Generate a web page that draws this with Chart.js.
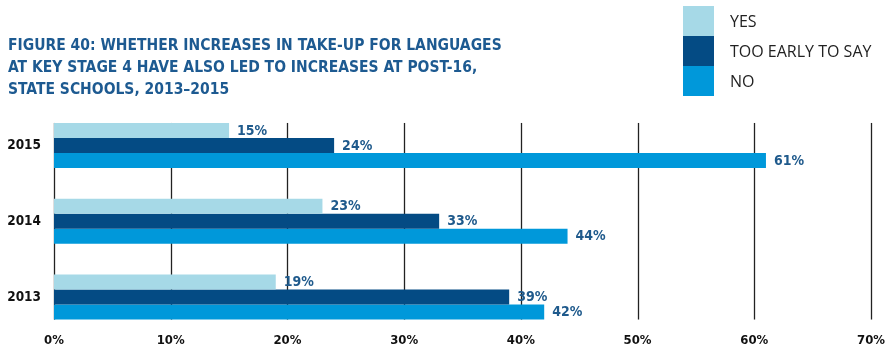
<!DOCTYPE html>
<html>
<head>
<meta charset="utf-8">
<script src="https://cdn.jsdelivr.net/npm/chart.js@4/dist/chart.umd.min.js"></script>
<style>
  body { margin: 0; background: #fff; }
  #wrap { position: relative; width: 886px; height: 350px; }
  #chart { position: absolute; left: 0; top: 0; }
  #title {
    position: absolute; left: 8px; top: 34px;
    font: bold 15.5px "DejaVu Sans Condensed", "DejaVu Sans", sans-serif;
    line-height: 22px; color: #1d5a91;
  }
  #legend { position: absolute; left: 683px; top: 6px; }
  .item { display: flex; align-items: center; height: 30px; }
  .swatch { width: 31px; height: 30px; margin-right: 16px; }
  .item span { font: 16px "Open Sans", sans-serif; color: #222; }
</style>
</head>
<body>
<div id="wrap">
  <canvas id="chart" width="886" height="350"></canvas>
  <div id="title">FIGURE 40: WHETHER INCREASES IN TAKE-UP FOR LANGUAGES<br>AT KEY STAGE 4 HAVE ALSO LED TO INCREASES AT POST-16,<br>STATE SCHOOLS, 2013–2015</div>
  <div id="legend"></div>
</div>
<script>
const years = ['2015', '2014', '2013'];
const seriesNames = ['YES', 'TOO EARLY TO SAY', 'NO'];
const yesValues = [15, 23, 19];
const tooEarlyValues = [24, 33, 39];
const noValues = [61, 44, 42];
const seriesColors = ['#a6d9e7', '#044b84', '#0098da'];

const condensed = '"DejaVu Sans Condensed", "DejaVu Sans", sans-serif';
const narrow = '"Liberation Sans Narrow", "DejaVu Sans Condensed", sans-serif';

// legend boxes stacked on the right
const legend = document.getElementById('legend');
seriesNames.forEach((name, i) => {
    const item = document.createElement('div');
    item.className = 'item';
    item.innerHTML = `<div class="swatch" style="background:${seriesColors[i]}"></div><span>${name}</span>`;
    legend.appendChild(item);
});

// vertical grid lines only span the bars, so draw them ourselves
const gridPlugin = {
    id: 'barGrid',
    beforeDatasetsDraw(chart) {
        const ctx = chart.ctx;
        const xScale = chart.scales.x;
        const first = chart.getDatasetMeta(0).data[0];
        const lastMeta = chart.getDatasetMeta(chart.data.datasets.length - 1);
        const last = lastMeta.data[lastMeta.data.length - 1];
        const top = first.y - first.height / 2;
        const bottom = last.y + last.height / 2;
        ctx.save();
        ctx.strokeStyle = '#222';
        ctx.lineWidth = 1.3;
        xScale.ticks.forEach(t => {
            const px = Math.round(xScale.getPixelForValue(t.value)) + 0.5;
            ctx.beginPath();
            ctx.moveTo(px, top);
            ctx.lineTo(px, bottom);
            ctx.stroke();
        });
        ctx.restore();
    }
};

// percentage labels at the end of each bar
const valueLabels = {
    id: 'valueLabels',
    afterDatasetsDraw(chart) {
        const ctx = chart.ctx;
        ctx.save();
        ctx.font = 'bold 14px ' + narrow;
        ctx.fillStyle = '#1f5a8c';
        ctx.textAlign = 'left';
        ctx.textBaseline = 'middle';
        chart.data.datasets.forEach((ds, i) => {
            chart.getDatasetMeta(i).data.forEach((bar, j) => {
                ctx.fillText(ds.data[j] + '%', bar.x + 8, bar.y + 0.5);
            });
        });
        ctx.restore();
    }
};

const seriesValues = [yesValues, tooEarlyValues, noValues];

new Chart(document.getElementById('chart'), {
    type: 'bar',
    data: {
        labels: years,
        datasets: seriesNames.map((name, i) => ({
            label: name,
            data: seriesValues[i],
            backgroundColor: seriesColors[i],
            borderWidth: 0,
            barPercentage: 1,
            categoryPercentage: 0.595,
            clip: false
        }))
    },
    options: {
        indexAxis: 'y',
        responsive: false,
        animation: false,
        events: [],
        layout: { padding: { top: 145.5, right: 15, left: 0, bottom: 0 } },
        scales: {
            x: {
                min: 0,
                max: 70,
                border: { display: false },
                grid: { display: false, drawTicks: false },
                ticks: {
                    stepSize: 10,
                    padding: 36,
                    color: '#111',
                    font: { family: condensed, size: 13, weight: 'bold' },
                    callback: v => v + '%'
                },
                afterFit(scale) {
                    scale.height = 53;
                    scale.paddingLeft = 0;
                    scale.paddingRight = 0;
                }
            },
            y: {
                offset: false,
                border: { display: false },
                grid: { display: false, drawTicks: false },
                ticks: {
                    padding: 13,
                    color: '#111',
                    font: { family: condensed, size: 13.5, weight: 'bold' }
                },
                afterFit(scale) { scale.width = 54; }
            }
        },
        plugins: {
            legend: { display: false },
            tooltip: { enabled: false }
        }
    },
    plugins: [gridPlugin, valueLabels]
});
</script>
</body>
</html>
